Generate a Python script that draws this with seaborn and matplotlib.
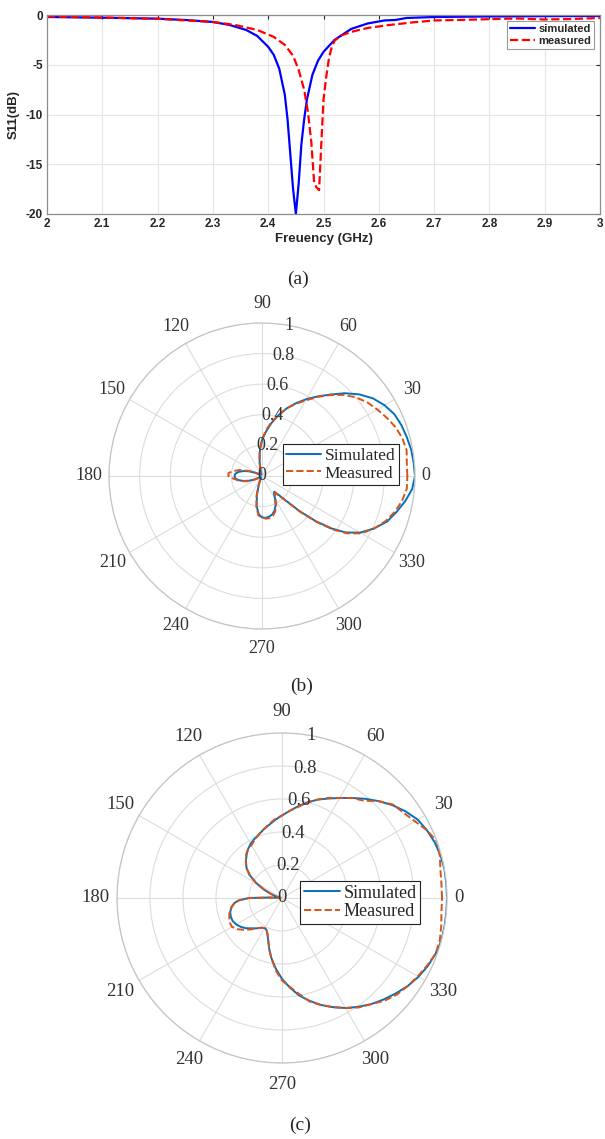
import numpy as np
import matplotlib
matplotlib.use("Agg")
import matplotlib.pyplot as plt
import seaborn as sns

# ---- (a) S11 vs frequency ----
freq_sim = [2.00, 2.10, 2.20, 2.25, 2.30, 2.33, 2.36, 2.38, 2.40, 2.41, 2.42, 2.43,
            2.435, 2.44, 2.445, 2.45, 2.455, 2.46, 2.465, 2.47, 2.48, 2.49, 2.50,
            2.52, 2.55, 2.58, 2.61, 2.63, 2.65, 2.70, 2.80, 2.90, 3.00]
s11_sim = [-0.2, -0.27, -0.37, -0.5, -0.7, -1.0, -1.5, -2.1, -3.2, -4.0, -5.4, -8.0,
           -10.5, -14.0, -17.5, -20.0, -17.0, -13.0, -10.5, -8.5, -6.0, -4.6, -3.7,
           -2.5, -1.4, -0.85, -0.55, -0.5, -0.3, -0.2, -0.15, -0.12, -0.1]

freq_meas = [2.00, 2.10, 2.20, 2.30, 2.34, 2.38, 2.41, 2.43, 2.445, 2.455, 2.465,
             2.472, 2.478, 2.483, 2.487, 2.492, 2.496, 2.50, 2.505, 2.51, 2.515,
             2.52, 2.53, 2.55, 2.58, 2.62, 2.66, 2.70, 2.78, 2.85, 2.90, 2.95, 3.00]
s11_meas = [-0.15, -0.25, -0.38, -0.7, -1.0, -1.5, -2.2, -3.0, -4.1, -5.5, -7.5,
            -9.8, -12.8, -16.8, -17.3, -17.6, -13.0, -8.5, -6.2, -4.3, -3.2,
            -2.6, -2.1, -1.7, -1.3, -1.0, -0.75, -0.55, -0.45, -0.35, -0.45, -0.4, -0.3]

freq_ticks = [2, 2.1, 2.2, 2.3, 2.4, 2.5, 2.6, 2.7, 2.8, 2.9, 3]
freq_tick_labels = ["2", "2.1", "2.2", "2.3", "2.4", "2.5", "2.6", "2.7", "2.8", "2.9", "3"]
s11_ticks = [0, -5, -10, -15, -20]

# ---- (b) radiation pattern ----
b_deg = [0, 5, 10, 15, 20, 25, 30, 35, 40, 45, 50, 55, 60, 65, 70, 75, 80, 85, 90,
         95, 100, 105, 110, 130, 150, 155, 160, 165, 170, 175, 180, 185, 190, 195,
         200, 205, 210, 230, 245, 250, 255, 260, 265, 270, 275, 280, 285, 290, 295,
         300, 304, 308, 311, 314, 317, 320, 323, 326, 330, 335, 340, 345, 350, 355, 360]
b_sim = [1.0, 0.995, 0.99, 0.98, 0.97, 0.955, 0.925, 0.885, 0.83, 0.765, 0.695,
         0.635, 0.58, 0.525, 0.47, 0.41, 0.35, 0.29, 0.235, 0.165, 0.09, 0.03, 0.01,
         0.01, 0.02, 0.05, 0.09, 0.125, 0.155, 0.175, 0.18, 0.175, 0.155, 0.125,
         0.09, 0.05, 0.02, 0.01, 0.02, 0.06, 0.13, 0.2, 0.25, 0.27, 0.275, 0.27,
         0.26, 0.24, 0.21, 0.17, 0.14, 0.13, 0.16, 0.22, 0.34, 0.46, 0.57, 0.66,
         0.74, 0.81, 0.87, 0.91, 0.95, 0.985, 1.0]
b_meas = [0.95, 0.95, 0.96, 0.95, 0.93, 0.9, 0.87, 0.84, 0.8, 0.75, 0.69, 0.63,
          0.57, 0.52, 0.47, 0.41, 0.36, 0.3, 0.24, 0.17, 0.1, 0.04, 0.02, 0.02,
          0.03, 0.06, 0.1, 0.15, 0.19, 0.22, 0.22, 0.19, 0.16, 0.13, 0.1, 0.06,
          0.03, 0.02, 0.03, 0.07, 0.14, 0.21, 0.26, 0.27, 0.28, 0.28, 0.27, 0.25,
          0.22, 0.18, 0.15, 0.14, 0.17, 0.23, 0.35, 0.47, 0.58, 0.67, 0.75, 0.81,
          0.86, 0.9, 0.93, 0.95, 0.95]

# ---- (c) radiation pattern ----
c_deg = [0, 5, 10, 15, 20, 25, 30, 35, 40, 45, 50, 55, 60, 65, 70, 75, 80, 85, 90,
         95, 100, 105, 110, 115, 120, 125, 130, 135, 140, 145, 150, 155, 160, 165,
         170, 175, 178, 180, 183, 186, 190, 195, 200, 205, 210, 215, 220, 225, 230,
         235, 240, 244, 248, 252, 256, 260, 265, 270, 275, 280, 285, 290, 295, 300,
         305, 310, 315, 320, 325, 330, 335, 340, 345, 350, 355, 360]
c_sim = [1.0, 1.0, 1.0, 0.995, 0.985, 0.97, 0.95, 0.915, 0.875, 0.83, 0.785, 0.74,
         0.70, 0.665, 0.635, 0.6, 0.565, 0.53, 0.50, 0.475, 0.45, 0.43, 0.41, 0.395,
         0.38, 0.36, 0.335, 0.31, 0.28, 0.235, 0.18, 0.12, 0.07, 0.035, 0.015, 0.01,
         0.08, 0.2, 0.26, 0.29, 0.31, 0.325, 0.33, 0.33, 0.32, 0.305, 0.285, 0.26,
         0.24, 0.22, 0.21, 0.215, 0.235, 0.27, 0.32, 0.37, 0.43, 0.49, 0.545, 0.6,
         0.645, 0.69, 0.73, 0.77, 0.805, 0.84, 0.87, 0.9, 0.93, 0.955, 0.975, 0.99,
         1.0, 1.0, 1.0, 1.0]
c_meas = [0.97, 0.97, 0.975, 0.99, 1.0, 0.97, 0.93, 0.9, 0.88, 0.83, 0.77, 0.74,
          0.7, 0.67, 0.635, 0.6, 0.56, 0.53, 0.5, 0.48, 0.455, 0.43, 0.41, 0.39,
          0.37, 0.36, 0.34, 0.31, 0.28, 0.24, 0.18, 0.12, 0.07, 0.035, 0.015, 0.01,
          0.08, 0.2, 0.26, 0.29, 0.31, 0.33, 0.34, 0.35, 0.35, 0.33, 0.3, 0.27,
          0.24, 0.22, 0.21, 0.215, 0.235, 0.27, 0.32, 0.37, 0.44, 0.5, 0.54, 0.59,
          0.65, 0.69, 0.73, 0.77, 0.81, 0.84, 0.88, 0.91, 0.93, 0.95, 0.97, 0.99,
          0.99, 0.98, 0.97, 0.97]

r_ticks = [0, 0.2, 0.4, 0.6, 0.8, 1]
r_tick_labels = ["0", "0.2", "0.4", "0.6", "0.8", "1"]
theta_ticks = list(range(0, 360, 30))

sns.set_theme(style="white")
plt.rcParams["font.family"] = ["Liberation Serif", "DejaVu Serif"]

W, H = 605, 1139
fig = plt.figure(figsize=(W / 100, H / 100), dpi=100)

# ---------- panel (a) ----------
sans_bold = {"family": "Liberation Sans", "weight": "bold"}
ax1 = fig.add_axes([47 / W, 1 - 214 / H, 553 / W, 199 / H])
sns.lineplot(x=freq_sim, y=s11_sim, ax=ax1, color="#0000ff", lw=1.6,
             sort=False, label="simulated")
sns.lineplot(x=freq_meas, y=s11_meas, ax=ax1, color="#ff0000", lw=1.6,
             linestyle="--", sort=False, label="measured")
ax1.set_xlim(2, 3)
ax1.set_ylim(-20, 0)
ax1.set_xticks(freq_ticks)
ax1.set_xticklabels(freq_tick_labels, **sans_bold, fontsize=8.5)
ax1.set_yticks(s11_ticks)
ax1.set_yticklabels([str(v) for v in s11_ticks], **sans_bold, fontsize=8.5)
ax1.tick_params(direction="in", length=3, width=0.8, colors="#262626",
                top=True, right=True, pad=3)
ax1.grid(True, color="#e6e6e6", lw=0.8)
for sp in ax1.spines.values():
    sp.set_color("#8c8c8c")
    sp.set_linewidth(0.9)
ax1.set_xlabel("Freuency (GHz)", **sans_bold, fontsize=9.5, color="#262626", labelpad=2)
ax1.set_ylabel("S11(dB)", **sans_bold, fontsize=9.5, color="#262626", labelpad=4)
leg = ax1.legend(loc="upper right", prop={**sans_bold, "size": 8}, handlelength=2.2,
                 fancybox=False, framealpha=1, borderpad=0.3, labelspacing=0.2,
                 handletextpad=0.3, borderaxespad=0.5)
leg.get_frame().set_edgecolor("#9a9a9a")
leg.get_frame().set_linewidth(0.8)

fig.text(298 / W, 1 - 279 / H, "(a)", ha="center", va="center", fontsize=14)


# ---------- polar panels ----------
def polar_panel(rect, deg, r_sim, r_meas, legend_xy, fs):
    ax = fig.add_axes(rect, projection="polar")
    th = np.deg2rad(deg)
    sns.lineplot(x=th, y=r_sim, ax=ax, color="#0072bd", lw=1.4, sort=False,
                 label="Simulated")
    sns.lineplot(x=th, y=r_meas, ax=ax, color="#d95319", lw=1.4, linestyle="--",
                 sort=False, label="Measured")
    ax.set_xlabel("")
    ax.set_ylabel("")
    ax.set_ylim(0, 1)
    ax.set_yticks(r_ticks)
    ax.set_yticklabels([])
    ax.set_xticks(np.deg2rad(theta_ticks))
    ax.set_xticklabels([])
    ax.grid(True, color="#dcdcdc", lw=0.8)
    ax.spines["polar"].set_color("#c4c4c4")
    ax.spines["polar"].set_linewidth(0.9)
    # MATLAB-style labels: angles outside the rim, radii along the 80 deg spoke
    for t in theta_ticks:
        rr = 1.07 if t == 0 else 1.13
        ax.text(np.deg2rad(t), rr, str(t), ha="center", va="center", fontsize=fs,
                color="#333333")
    for r, lab in zip(r_ticks, r_tick_labels):
        ax.text(np.deg2rad(80), r, lab, ha="center", va="center", fontsize=fs,
                color="#333333")
    leg = ax.legend(loc="upper left", bbox_to_anchor=legend_xy,
                    bbox_transform=fig.transFigure, fontsize=fs - 0.5,
                    fancybox=False, framealpha=1, borderpad=0.2, labelspacing=0.1,
                    handlelength=2.0, handletextpad=0.2, borderaxespad=0)
    leg.get_frame().set_edgecolor("#222222")
    leg.get_frame().set_linewidth(0.8)
    return ax


polar_panel([109 / W, 1 - 629 / H, 306 / W, 306 / H], b_deg, b_sim, b_meas,
            (283 / W, 1 - 444 / H), 13)
fig.text(302 / W, 1 - 686 / H, "(b)", ha="center", va="center", fontsize=14)

polar_panel([117 / W, 1 - 1063 / H, 330 / W, 330 / H], c_deg, c_sim, c_meas,
            (300 / W, 1 - 881 / H), 13.5)
fig.text(300 / W, 1 - 1125 / H, "(c)", ha="center", va="center", fontsize=14)

fig.savefig("out.png", dpi=100)
plt.close(fig)
